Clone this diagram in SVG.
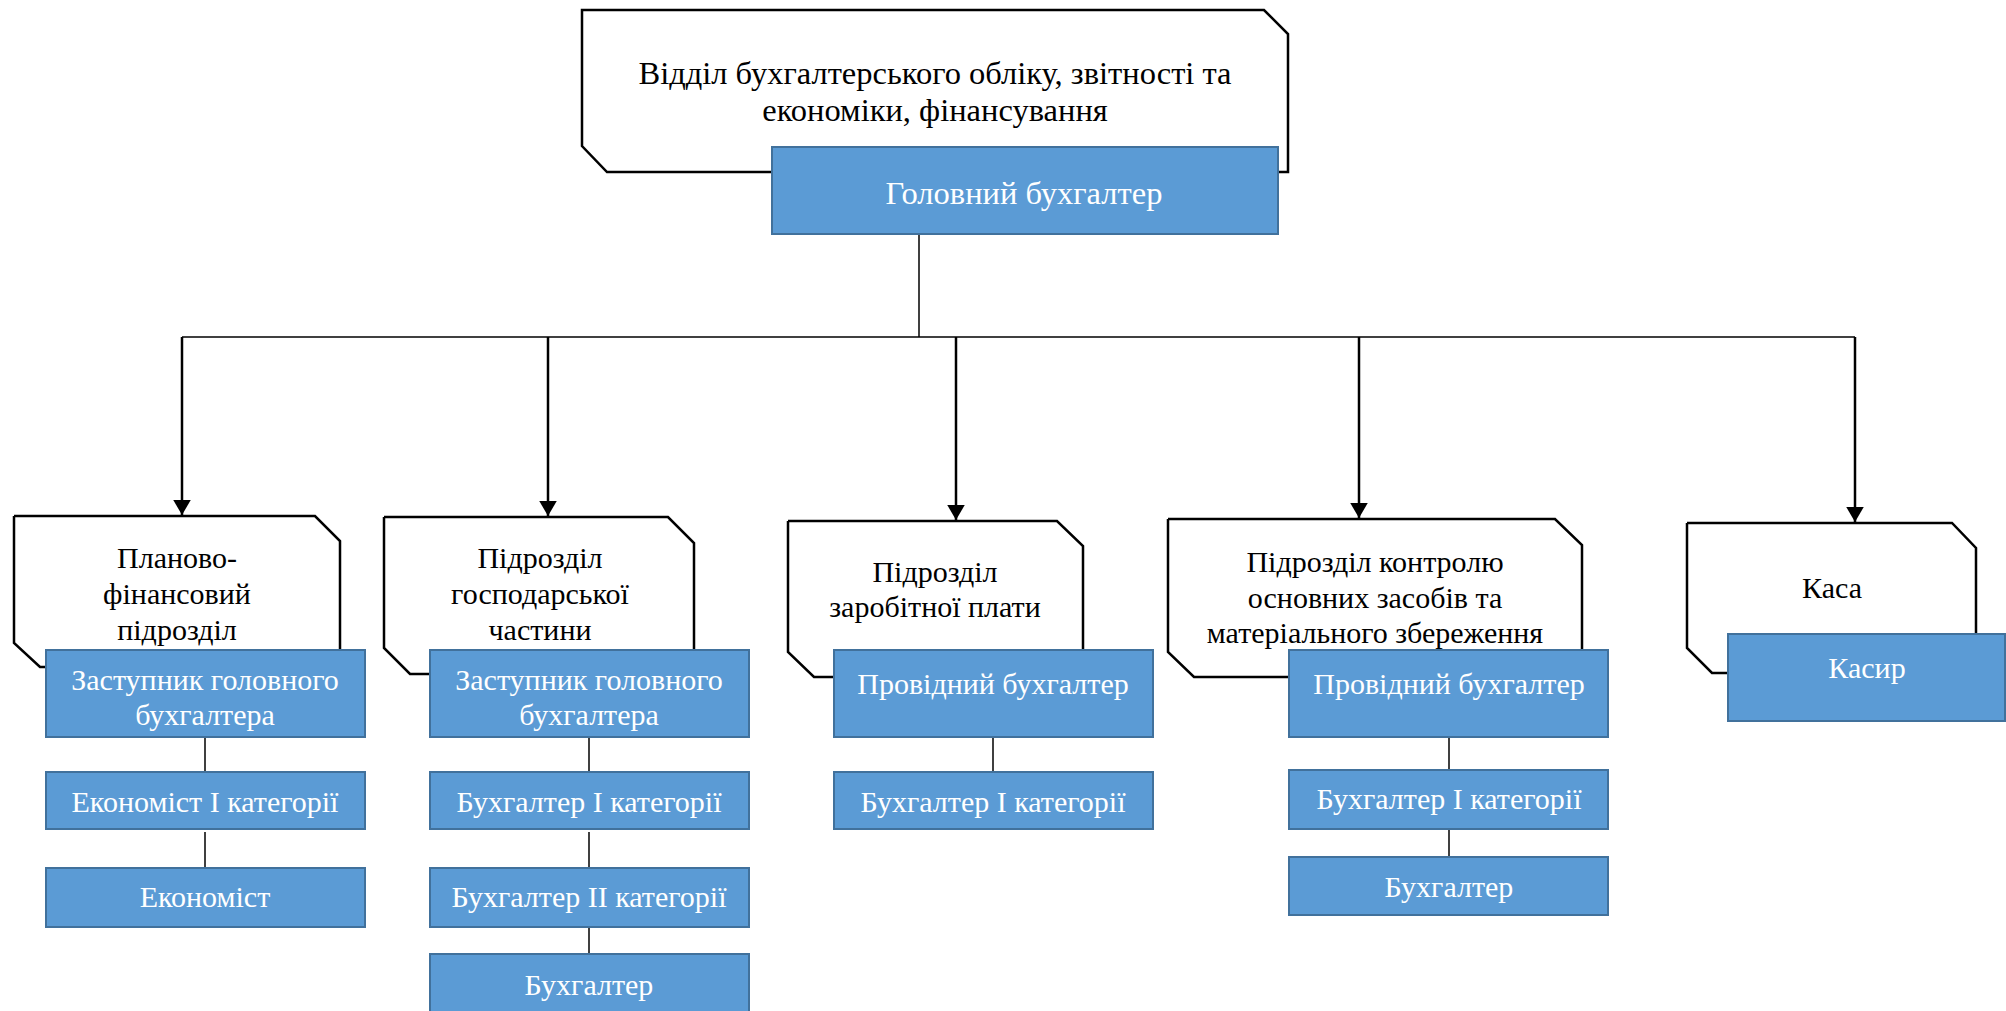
<svg xmlns="http://www.w3.org/2000/svg" width="2006" height="1011" viewBox="0 0 2006 1011">
<style>
.dept{fill:#fff;stroke:#000;stroke-width:2.5;stroke-linejoin:miter}
.pos{fill:#5B9BD5;stroke:#41719C;stroke-width:2}
.dt{font-family:"Liberation Serif","Times New Roman",serif;font-size:30px;fill:#000;text-anchor:middle}
.pt{font-family:"Liberation Serif","Times New Roman",serif;font-size:30px;fill:#fff;text-anchor:middle}
.big{font-size:32.5px}
.thin{stroke:#000;stroke-width:1.5;fill:none}
.arr{stroke:#000;stroke-width:2.5;fill:none}
</style>
<defs>
<marker id="ah" markerWidth="6" markerHeight="7" refX="6" refY="3.5" orient="auto" markerUnits="strokeWidth">
<path d="M0,0 L6,3.5 L0,7 Z" fill="#000"/>
</marker>
<clipPath id="c1"><rect x="46" y="650" width="319" height="87"/></clipPath>
<clipPath id="c2"><rect x="430" y="650" width="319" height="87"/></clipPath>
</defs>

<g id="connectors">
<line class="thin" x1="919" y1="234" x2="919" y2="337"/>
<line class="thin" x1="182" y1="337" x2="1855" y2="337"/>
<line class="arr" x1="182" y1="337" x2="182" y2="515" marker-end="url(#ah)"/>
<line class="arr" x1="548" y1="337" x2="548" y2="516" marker-end="url(#ah)"/>
<line class="arr" x1="956" y1="337" x2="956" y2="520" marker-end="url(#ah)"/>
<line class="arr" x1="1359" y1="337" x2="1359" y2="518" marker-end="url(#ah)"/>
<line class="arr" x1="1855" y1="337" x2="1855" y2="522" marker-end="url(#ah)"/>
<line class="thin" x1="205" y1="737" x2="205" y2="772"/>
<line class="thin" x1="205" y1="832" x2="205" y2="868"/>
<line class="thin" x1="589" y1="737" x2="589" y2="772"/>
<line class="thin" x1="589" y1="832" x2="589" y2="868"/>
<line class="thin" x1="589" y1="927" x2="589" y2="954"/>
<line class="thin" x1="993" y1="737" x2="993" y2="772"/>
<line class="thin" x1="1449" y1="737" x2="1449" y2="770"/>
<line class="thin" x1="1449" y1="829" x2="1449" y2="857"/>
</g>

<g id="node-top">
<path class="dept" d="M582,10 H1264 L1288,34 V172 H607 L582,146 Z"/>
<text class="dt big" x="935" y="84">Відділ бухгалтерського обліку, звітності та</text>
<text class="dt big" x="935" y="121">економіки, фінансування</text>
</g>
<g id="node-chief">
<rect class="pos" x="772" y="147" width="506" height="87"/>
<text class="pt big" x="1024" y="204">Головний бухгалтер</text>
</g>

<g id="node-plan">
<path class="dept" d="M14,516 H315 L340,541 V650 M14,516 V643 L40,667 H46"/>
<text class="dt" x="177" y="568">Планово-</text>
<text class="dt" x="177" y="604">фінансовий</text>
<text class="dt" x="177" y="640">підрозділ</text>
</g>
<g id="node-plan-deputy">
<rect class="pos" x="46" y="650" width="319" height="87"/>
<g clip-path="url(#c1)">
<text class="pt" x="205" y="690">Заступник головного</text>
<text class="pt" x="205" y="725">бухгалтера</text>
</g>
</g>
<g id="node-plan-econ1">
<rect class="pos" x="46" y="772" width="319" height="57"/>
<text class="pt" x="205" y="812">Економіст I категорії</text>
</g>
<g id="node-plan-econ">
<rect class="pos" x="46" y="868" width="319" height="59"/>
<text class="pt" x="205" y="907">Економіст</text>
</g>

<g id="node-house">
<path class="dept" d="M384,517 H668 L694,543 V650 M384,517 V648 L410,674 H430"/>
<text class="dt" x="540" y="568">Підрозділ</text>
<text class="dt" x="540" y="604">господарської</text>
<text class="dt" x="540" y="640">частини</text>
</g>
<g id="node-house-deputy">
<rect class="pos" x="430" y="650" width="319" height="87"/>
<g clip-path="url(#c2)">
<text class="pt" x="589" y="690">Заступник головного</text>
<text class="pt" x="589" y="725">бухгалтера</text>
</g>
</g>
<g id="node-house-acc1">
<rect class="pos" x="430" y="772" width="319" height="57"/>
<text class="pt" x="589" y="812">Бухгалтер I категорії</text>
</g>
<g id="node-house-acc2">
<rect class="pos" x="430" y="868" width="319" height="59"/>
<text class="pt" x="589" y="907">Бухгалтер II категорії</text>
</g>
<g id="node-house-acc">
<rect class="pos" x="430" y="954" width="319" height="70"/>
<text class="pt" x="589" y="995">Бухгалтер</text>
</g>

<g id="node-salary">
<path class="dept" d="M788,521 H1057 L1083,546 V650 M788,521 V652 L814,677 H834"/>
<text class="dt" x="935" y="582">Підрозділ</text>
<text class="dt" x="935" y="617">заробітної плати</text>
</g>
<g id="node-salary-lead">
<rect class="pos" x="834" y="650" width="319" height="87"/>
<text class="pt" x="993" y="694">Провідний бухгалтер</text>
</g>
<g id="node-salary-acc1">
<rect class="pos" x="834" y="772" width="319" height="57"/>
<text class="pt" x="993" y="812">Бухгалтер I категорії</text>
</g>

<g id="node-assets">
<path class="dept" d="M1168,519 H1555 L1582,545 V650 M1168,519 V652 L1194,677 H1289"/>
<text class="dt" x="1375" y="572">Підрозділ контролю</text>
<text class="dt" x="1375" y="608">основних засобів та</text>
<text class="dt" x="1375" y="643">матеріального збереження</text>
</g>
<g id="node-assets-lead">
<rect class="pos" x="1289" y="650" width="319" height="87"/>
<text class="pt" x="1449" y="694">Провідний бухгалтер</text>
</g>
<g id="node-assets-acc1">
<rect class="pos" x="1289" y="770" width="319" height="59"/>
<text class="pt" x="1449" y="809">Бухгалтер I категорії</text>
</g>
<g id="node-assets-acc">
<rect class="pos" x="1289" y="857" width="319" height="58"/>
<text class="pt" x="1449" y="897">Бухгалтер</text>
</g>

<g id="node-cash">
<path class="dept" d="M1687,523 H1952 L1976,548 V634 M1687,523 V648 L1712,673 H1728"/>
<text class="dt" x="1832" y="598">Каса</text>
</g>
<g id="node-cashier">
<rect class="pos" x="1728" y="634" width="277" height="87"/>
<text class="pt" x="1867" y="678">Касир</text>
</g>
</svg>
